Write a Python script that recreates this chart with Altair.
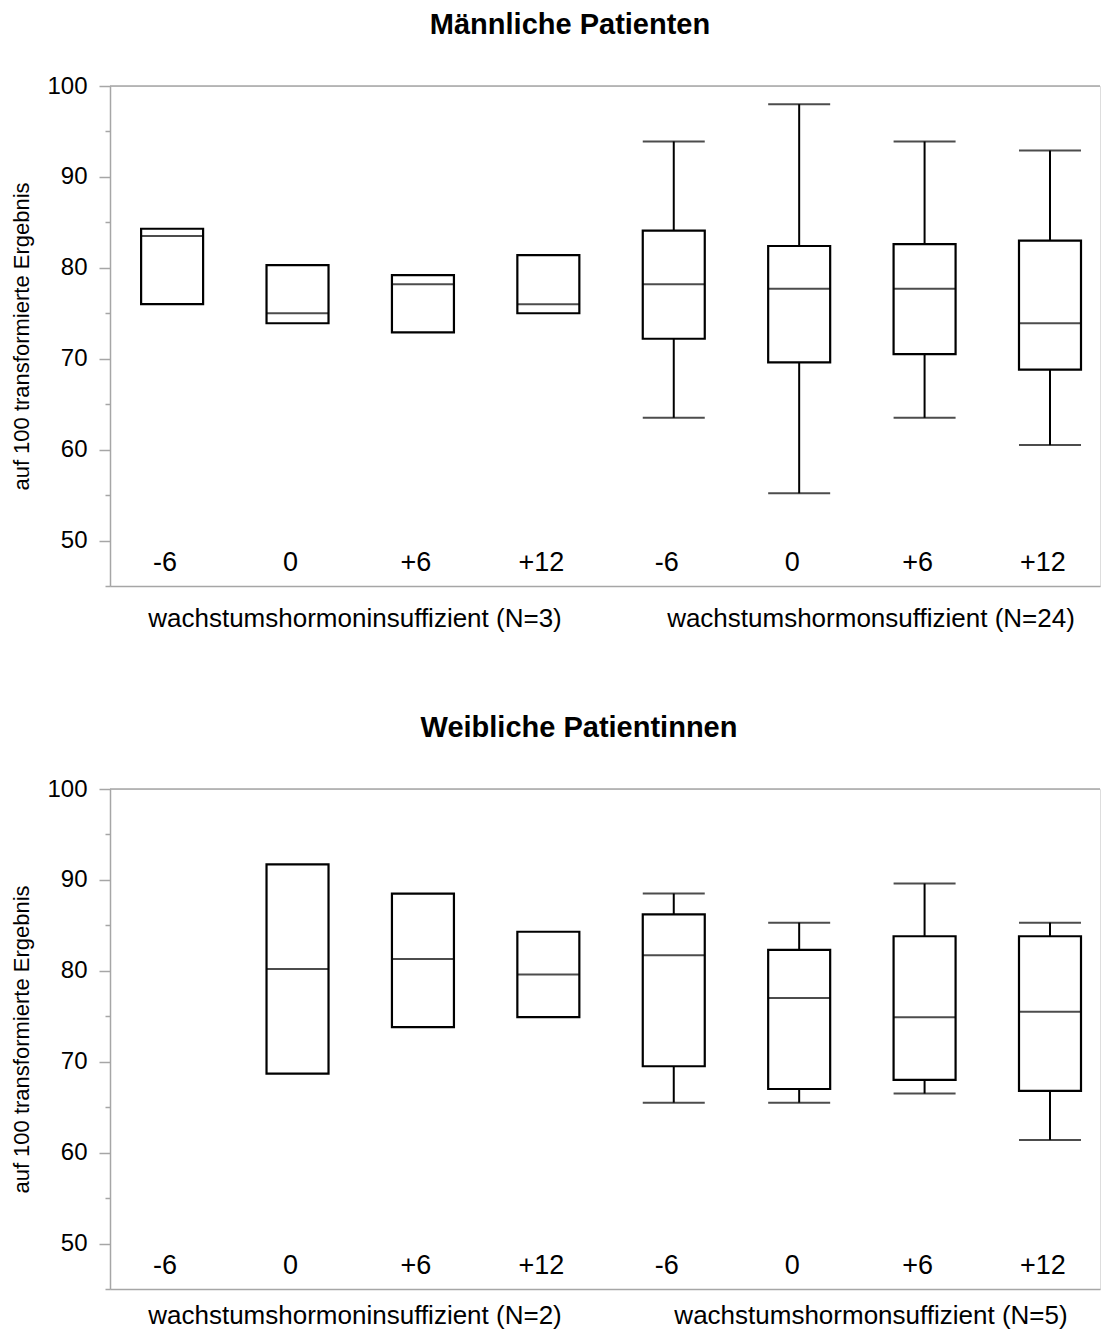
import altair as alt
import pandas as pd

# Time points (months) for the two patient groups
timepoints = ["-6", "0", "+6", "+12", "-6", "0", "+6", "+12"]
slots = ["i-6", "i0", "i+6", "i+12", "s-6", "s0", "s+6", "s+12"]

# Männliche Patienten: whisker ends, quartiles and median
m_lo = [None, None, None, None, 63.5, 55.2, 63.5, 60.5]
m_q1 = [76.0, 73.9, 72.9, 75.0, 72.2, 69.6, 70.5, 68.8]
m_med = [83.5, 75.0, 78.2, 76.0, 78.2, 77.7, 77.7, 73.9]
m_q3 = [84.3, 80.3, 79.2, 81.4, 84.1, 82.4, 82.6, 83.0]
m_hi = [None, None, None, None, 93.9, 98.0, 93.9, 92.9]

# Weibliche Patientinnen
w_lo = [None, None, None, None, 65.5, 65.5, 66.5, 61.4]
w_q1 = [None, 68.7, 73.8, 74.9, 69.5, 67.0, 68.0, 66.8]
w_med = [None, 80.2, 81.3, 79.6, 81.7, 77.0, 74.9, 75.5]
w_q3 = [None, 91.7, 88.5, 84.3, 86.2, 82.3, 83.8, 83.8]
w_hi = [None, None, None, None, 88.5, 85.3, 89.6, 85.3]

major_ticks = [50, 60, 70, 80, 90, 100]
minor_ticks = [45, 55, 65, 75, 85, 95]

GRAY = "#a6a6a6"
FONT = "Liberation Sans"
BOX_W = 62


def panel(title, title_dx, lo, q1, med, q3, hi, n_insuff, n_suff, group_y):
    df = pd.DataFrame({"slot": slots, "zeit": timepoints, "lo": lo,
                       "q1": q1, "med": med, "q3": q3, "hi": hi})
    xscale = alt.Scale(type="point", domain=slots, padding=0.447, align=0.554)
    yscale = alt.Scale(domain=[45, 100], nice=False, zero=False)
    x = alt.X("slot:N", scale=xscale,
              axis=alt.Axis(labels=False, ticks=False, title=None, grid=False,
                            domainColor=GRAY, domainWidth=1.5))

    major_axis = alt.Axis(values=major_ticks, tickSize=11, tickColor=GRAY,
                          tickWidth=1.5, domainColor=GRAY, domainWidth=1.5,
                          labelFontSize=24, labelColor="black", labelPadding=12,
                          labelFont=FONT, grid=False, orient="left",
                          title="auf 100 transformierte Ergebnis",
                          titleFontSize=22, titleFontWeight="normal",
                          titleFont=FONT, titleColor="black", titlePadding=13)
    minor_axis = alt.Axis(values=minor_ticks, tickSize=5, tickColor=GRAY,
                          tickWidth=1.5, domain=False, labels=False,
                          grid=False, orient="left", title=None)

    base = alt.Chart(df)
    valid_box = "isValid(datum.q1)"
    valid_whisker = "isValid(datum.lo)"
    single = pd.DataFrame({"v": [100]})

    top_line = alt.Chart(single).mark_rule(
        color=GRAY, strokeWidth=1.5
    ).encode(y=alt.Y("v:Q", scale=yscale, axis=minor_axis))

    whisker_up = base.transform_filter(valid_whisker).mark_rule(
        color="black", strokeWidth=2
    ).encode(x=x, y=alt.Y("q3:Q", scale=yscale, axis=None), y2="hi:Q")
    whisker_dn = base.transform_filter(valid_whisker).mark_rule(
        color="black", strokeWidth=2
    ).encode(x=x, y=alt.Y("lo:Q", scale=yscale, axis=None), y2="q1:Q")
    cap_hi = base.transform_filter(valid_whisker).mark_tick(
        color="black", size=BOX_W, thickness=2
    ).encode(x=x, y=alt.Y("hi:Q", scale=yscale, axis=None))
    cap_lo = base.transform_filter(valid_whisker).mark_tick(
        color="black", size=BOX_W, thickness=2
    ).encode(x=x, y=alt.Y("lo:Q", scale=yscale, axis=None))

    boxes = base.transform_filter(valid_box).mark_bar(
        size=BOX_W, fill="white", stroke="black", strokeWidth=2.2
    ).encode(x=x, y=alt.Y("q1:Q", scale=yscale, axis=major_axis), y2="q3:Q")
    medians = base.transform_filter(valid_box).mark_tick(
        color="black", size=BOX_W, thickness=2
    ).encode(x=x, y=alt.Y("med:Q", scale=yscale, axis=None))

    time_labels = base.mark_text(
        font=FONT, fontSize=27, color="black", baseline="middle", dx=-7
    ).encode(x=x, y=alt.value(477), text="zeit:N")

    group_a = alt.Chart(single).mark_text(
        font=FONT, fontSize=26, color="black", baseline="middle",
        text=f"wachstumshormoninsuffizient (N={n_insuff})"
    ).encode(x=alt.value(245), y=alt.value(group_y))
    group_b = alt.Chart(single).mark_text(
        font=FONT, fontSize=26, color="black", baseline="middle",
        text=f"wachstumshormonsuffizient (N={n_suff})"
    ).encode(x=alt.value(761), y=alt.value(group_y))

    return alt.layer(
        top_line, whisker_up, whisker_dn, cap_hi, cap_lo, boxes, medians,
        time_labels, group_a, group_b
    ).resolve_axis(y="independent").properties(
        width=990, height=500,
        title=alt.TitleParams(title, font=FONT, fontSize=29, fontWeight="bold",
                              color="black", anchor="middle", frame="group",
                              dx=title_dx, offset=34),
    )


top = panel("Männliche Patienten", -35, m_lo, m_q1, m_med, m_q3, m_hi, 3, 24, 533)
bottom = panel("Weibliche Patientinnen", -26, w_lo, w_q1, w_med, w_q3, w_hi, 2, 5, 527)

chart = alt.vconcat(top, bottom, spacing=80).properties(
    padding={"left": 10, "top": 10, "right": 0, "bottom": 5}
).configure_view(stroke=None).configure(background="white")

chart.save("out.html", embed_options={"renderer": "svg", "actions": False})
